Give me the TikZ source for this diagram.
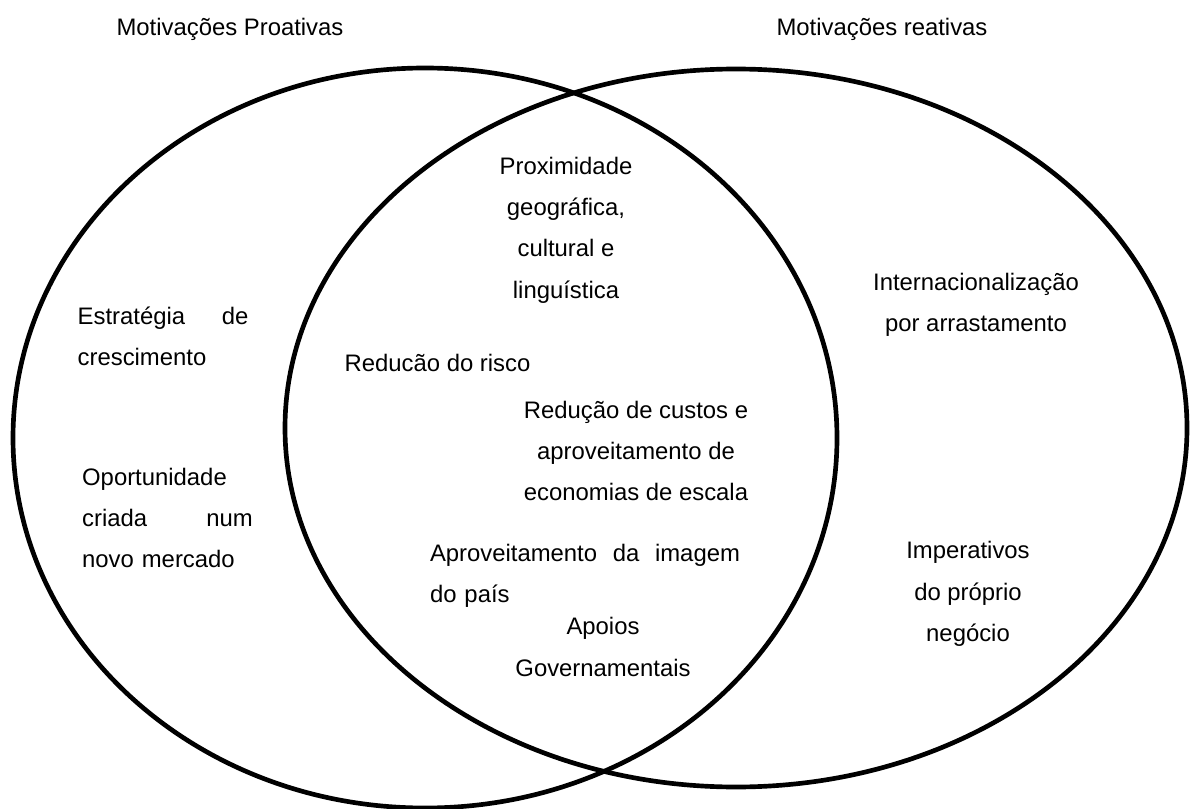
\documentclass[tikz,border=0pt]{standalone}
\usepackage{fontspec}
\setmainfont{Liberation Sans}

\begin{document}
\begin{tikzpicture}[x=0.75pt, y=-0.75pt,
  font=\fontsize{17.9pt}{31pt}\selectfont,
  txt/.style={inner sep=0pt, align=center},
  spread/.style={inner sep=0pt, align=left, text width=128pt},
  ring/.style={line width=3.5pt}]
  \useasboundingbox (0,0) rectangle (1192,809);
  % the two sets
  \draw[ring] (425,438) ellipse [x radius=412, y radius=370];
  \draw[ring] (736,428) ellipse [x radius=451, y radius=359];
  % titles
  \node[txt] (pro) at (230,29) {Motivações Proativas};
  \node[txt] (rea) at (882,29) {Motivações reativas};
  % proactive only
  \node[spread] (estr) at (163,336)
    {\leavevmode\hbox to 128pt{Estratégia\hfill de}\\crescimento};
  \node[spread] (oport) at (167.5,518)
    {Oportunidade\\\leavevmode\hbox to 128pt{criada\hfill num}\\novo mercado};
  % both
  \node[txt] (prox) at (566,230) {Proximidade\\geográfica,\\cultural e\\linguística};
  \node[txt] (risco) at (437.5,363) {Reducão do risco};
  \node[txt] (custos) at (636,451) {Redução de custos e\\aproveitamento de\\economias de escala};
  \node[spread, text width=232.5pt] (imagem) at (585,576)
    {\leavevmode\hbox to 232.5pt{Aproveitamento\hfill da\hfill imagem}\\do país};
  \node[txt] (apoios) at (603,647) {Apoios\\Governamentais};
  % reactive only
  \node[txt] (inter) at (976,305) {Internacionalização\\por arrastamento};
  \node[txt] (imper) at (968,594) {Imperativos\\do próprio\\negócio};
\end{tikzpicture}
\end{document}
